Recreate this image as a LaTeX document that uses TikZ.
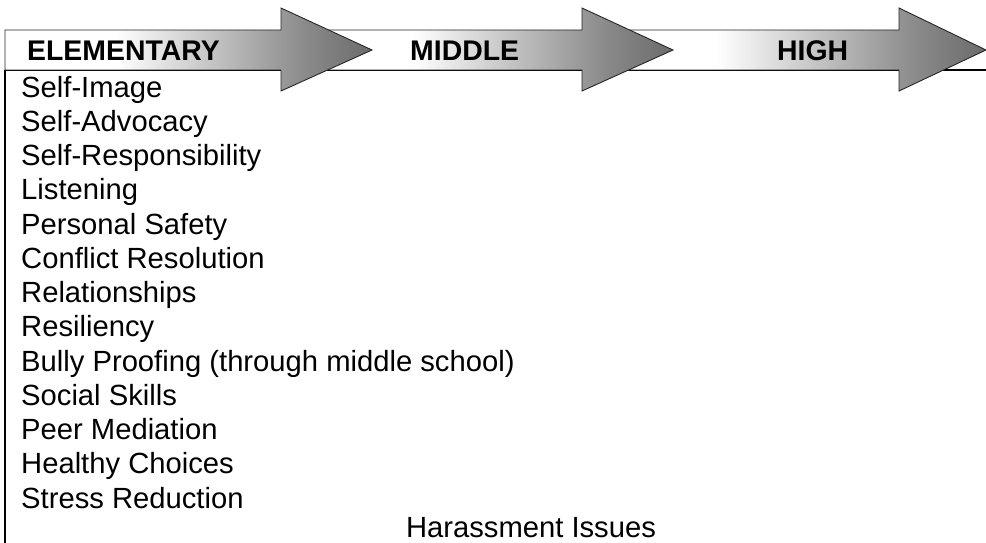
\documentclass[tikz,border=0pt]{standalone}
\usepackage{fontspec}
\setmainfont{Liberation Sans}
\usetikzlibrary{positioning}

% white on the left, darkening towards the arrow tip
\pgfdeclarehorizontalshading{stagefade}{100bp}{color(0bp)=(white); color(25bp)=(white); color(40bp)=(white); color(66bp)=(black!46); color(75bp)=(black!58); color(100bp)=(black!58)}

\begin{document}
\begin{tikzpicture}[
  x=1pt, y=-1pt,
  stagearrow/.style={draw=black!85, line width=0.9pt, line join=miter, shading=stagefade},
  stage/.style={anchor=base west, inner sep=0pt, font=\fontsize{28.4}{34}\selectfont\bfseries},
  topic/.style={anchor=north west, inner sep=0pt, text height=24pt, text depth=9.85pt, font=\fontsize{29.2}{34}\selectfont},
  border/.style={line width=1.8pt}
]
\useasboundingbox (0,0) rectangle (986,543);

% table frame under the arrows
\draw[border] (5,70) -- (986,70);
\draw[border] (5,70) -- (5,543);

% the three stage arrows, last one first so each head sits on the next shaft
\draw[stagearrow] (600,30) -- (899,30) -- (899,8) -- (986,50) -- (899,91) -- (899,70) -- (600,70) -- cycle;
\draw[stagearrow] (300,30) -- (582,30) -- (582,8) -- (673,50) -- (582,91) -- (582,70) -- (300,70) -- cycle;
\draw[stagearrow] (5,30) -- (281,30) -- (281,8) -- (372,50) -- (281,91) -- (281,70) -- (5,70) -- cycle;
\draw[border] (946,70.5) -- (986,70.5);

\node[stage] (elem) at (27,61) {ELEMENTARY};
\node[stage] (mid) at (410,61) {MIDDLE};
\node[stage] (high) at (777,61) {HIGH};

\node[topic, anchor=base west] (t1) at (21,97) {Self-Image};
\node[topic, below=0pt of t1.south west, anchor=north west] (t2) {Self-Advocacy};
\node[topic, below=0pt of t2.south west, anchor=north west] (t3) {Self-Responsibility};
\node[topic, below=0pt of t3.south west, anchor=north west] (t4) {Listening};
\node[topic, below=0pt of t4.south west, anchor=north west] (t5) {Personal Safety};
\node[topic, below=0pt of t5.south west, anchor=north west] (t6) {Conflict Resolution};
\node[topic, below=0pt of t6.south west, anchor=north west] (t7) {Relationships};
\node[topic, below=0pt of t7.south west, anchor=north west] (t8) {Resiliency};
\node[topic, below=0pt of t8.south west, anchor=north west] (t9) {Bully Proofing (through middle school)};
\node[topic, below=0pt of t9.south west, anchor=north west] (t10) {Social Skills};
\node[topic, below=0pt of t10.south west, anchor=north west] (t11) {Peer Mediation};
\node[topic, below=0pt of t11.south west, anchor=north west] (t12) {Healthy Choices};
\node[topic, below=0pt of t12.south west, anchor=north west] (t13) {Stress Reduction};
\node[topic, anchor=base] (harass) at (531,537) {Harassment Issues};
\end{tikzpicture}
\end{document}
